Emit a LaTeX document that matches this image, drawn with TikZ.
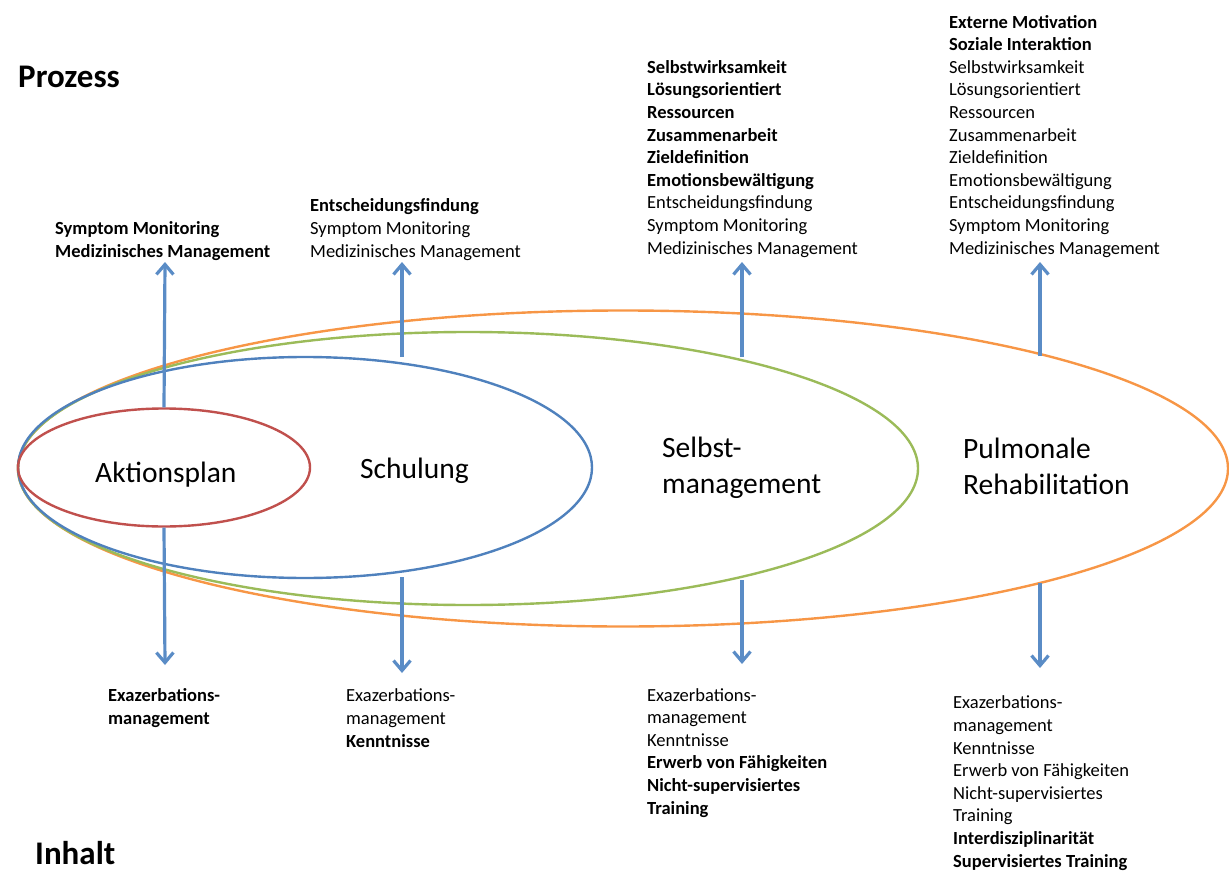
\documentclass[tikz,border=0pt]{standalone}
\usepackage{fontspec}
\setmainfont{Carlito}
\usepackage{xcolor}
\usetikzlibrary{shapes,
                arrows.meta}
\definecolor{ovred}{HTML}{C0504D}
\definecolor{ovblue}{HTML}{4F81BD}
\definecolor{ovgreen}{HTML}{9BBB59}
\definecolor{ovorange}{HTML}{F79646}
\definecolor{arrblue}{HTML}{5A8CC6}

\begin{document}
\begin{tikzpicture}[x=1pt,y=-1pt]
                % define styles
\tikzset{oval/.style={ellipse,
                      line width=2.4pt,
                      inner sep=0,
                      },
         arr/.style={draw=arrblue,
                     line width=3.2pt,
                     -{Straight Barb[length=10pt,width=17pt]},
                     },
         txt/.style={anchor=base west,
                     align=left,
                     inner sep=0,
                     font=\fontsize{18.5}{22.6}\selectfont,
                     },
         big/.style={anchor=base west,
                     align=left,
                     inner sep=0,
                     font=\fontsize{29.5}{35.5}\selectfont,
                     },
         head/.style={anchor=base west,
                      inner sep=0,
                      font=\bfseries\fontsize{33}{40}\selectfont,
                      }
}

\useasboundingbox (0,0) rectangle (1229,872);

% ellipses
\node[oval, draw=ovorange, minimum width=1210pt, minimum height=316pt] (reha)   at (623,468.5) {};
\node[oval, draw=ovgreen,  minimum width=900pt,  minimum height=273pt] (selbst) at (468,468.5) {};
\node[oval, draw=ovblue,   minimum width=574pt,  minimum height=221pt] (schul)  at (305,467.5) {};
\node[oval, draw=ovred,    minimum width=292pt,  minimum height=118pt] (aktion) at (164,467.5) {};

% labels (base = last line)
\node[big] (l-akt) at (95,482)  {Aktionsplan};
\node[big] (l-sch) at (360,478) {Schulung};
\node[big] (l-sel) at (662,493) {Selbst-\\management};
\node[big] (l-reh) at (963,494) {Pulmonale\\Rehabilitation};

\node[head] (prozess) at (18,88)  {Prozess};
\node[head] (inhalt)  at (35,864) {Inhalt};

% Prozess
\node[txt] (p-akt) at (55,257)  {\textbf{Symptom Monitoring}\\\textbf{Medizinisches Management}};
\node[txt] (p-sch) at (310,257) {\textbf{Entscheidungsfindung}\\Symptom Monitoring\\Medizinisches Management};
\node[txt] (p-sel) at (647,254) {\textbf{Selbstwirksamkeit}\\\textbf{Lösungsorientiert}\\\textbf{Ressourcen}\\
                                 \textbf{Zusammenarbeit}\\\textbf{Zieldefinition}\\\textbf{Emotionsbewältigung}\\
                                 Entscheidungsfindung\\Symptom Monitoring\\Medizinisches Management};
\node[txt] (p-reh) at (949,254) {\textbf{Externe Motivation}\\\textbf{Soziale Interaktion}\\Selbstwirksamkeit\\
                                 Lösungsorientiert\\Ressourcen\\Zusammenarbeit\\Zieldefinition\\
                                 Emotionsbewältigung\\Entscheidungsfindung\\Symptom Monitoring\\Medizinisches Management};

% Inhalt
\node[txt] (i-akt) at (108,724) {\textbf{Exazerbations-}\\\textbf{management}};
\node[txt] (i-sch) at (346,747) {Exazerbations-\\management\\\textbf{Kenntnisse}};
\node[txt] (i-sel) at (647,814) {Exazerbations-\\management\\Kenntnisse\\\textbf{Erwerb von Fähigkeiten}\\
                                 \textbf{Nicht-supervisiertes}\\\textbf{Training}};
\node[txt] (i-reh) at (953,867) {Exazerbations-\\management\\Kenntnisse\\Erwerb von Fähigkeiten\\
                                 Nicht-supervisiertes\\Training\\\textbf{Interdisziplinarität}\\\textbf{Supervisiertes Training}};

% arrow ends
\coordinate (u1)  at (165,262);
\coordinate (d1)  at (165,665);
\coordinate (s2u) at (402,357);
\coordinate (u2)  at (402,262);
\coordinate (s2d) at (402,577);
\coordinate (d2)  at (402,673);
\coordinate (s3u) at (742,357);
\coordinate (u3)  at (742,262);
\coordinate (s3d) at (742,580);
\coordinate (d3)  at (742,664);
\coordinate (s4u) at (1040,356);
\coordinate (u4)  at (1040,262);
\coordinate (s4d) at (1040,583);
\coordinate (d4)  at (1040,668);

% arrows
\draw[arr] (aktion.north) -- (u1);
\draw[arr] (aktion.south) -- (d1);
\draw[arr] (s2u) -- (u2);
\draw[arr] (s2d) -- (d2);
\draw[arr] (s3u) -- (u3);
\draw[arr] (s3d) -- (d3);
\draw[arr] (s4u) -- (u4);
\draw[arr] (s4d) -- (d4);

\end{tikzpicture}
\end{document}
